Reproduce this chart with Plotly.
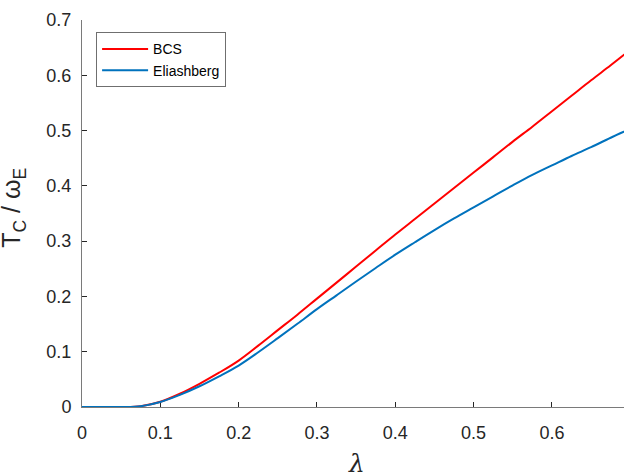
import plotly.graph_objects as go

lam = [0, 0.05, 0.075, 0.1, 0.125, 0.15, 0.175, 0.2, 0.225, 0.25, 0.275, 0.3, 0.325,
       0.35, 0.375, 0.4, 0.425, 0.45, 0.475, 0.5, 0.525, 0.55, 0.575, 0.6, 0.625,
       0.65, 0.675, 0.7]
bcs = [0, 0, 0.0015, 0.0095, 0.024, 0.042, 0.062, 0.084, 0.111, 0.139, 0.167, 0.196,
       0.225, 0.254, 0.283, 0.312, 0.340, 0.368, 0.396, 0.424, 0.452, 0.480, 0.507,
       0.535, 0.563, 0.591, 0.618, 0.646]
eli = [0, 0, 0.0015, 0.009, 0.022, 0.0375, 0.0555, 0.075, 0.099, 0.1245, 0.1505, 0.177,
       0.202, 0.227, 0.2515, 0.2755, 0.298, 0.320, 0.341, 0.361, 0.381, 0.401, 0.420,
       0.437, 0.454, 0.470, 0.487, 0.503]

x_ticks = [0, 0.1, 0.2, 0.3, 0.4, 0.5, 0.6]
y_ticks = [0, 0.1, 0.2, 0.3, 0.4, 0.5, 0.6, 0.7]

FONT = "Liberation Sans, Arial, Helvetica, sans-serif"
TXT = "#262626"
AX = "#7a7a7a"

fig = go.Figure()
fig.add_trace(go.Scatter(x=lam, y=bcs, mode="lines", name="BCS",
                         line=dict(color="#ff0000", width=2, shape="spline",
                                   smoothing=1.0)))
fig.add_trace(go.Scatter(x=lam, y=eli, mode="lines", name="Eliashberg",
                         line=dict(color="#0072bd", width=2, shape="spline",
                                   smoothing=1.0)))

fig.update_layout(
    width=624, height=473,
    margin=dict(l=82, r=0, t=20, b=66),
    paper_bgcolor="white", plot_bgcolor="white",
    font=dict(family=FONT, color=TXT, size=18),
    showlegend=True,
    legend=dict(x=0.026, y=0.968, xanchor="left", yanchor="top",
                bgcolor="white", bordercolor="#6f6f6f", borderwidth=1,
                font=dict(size=14, color="#000000"), tracegroupgap=0,
                itemwidth=46),
    xaxis=dict(range=[0, 0.692], tickvals=x_ticks, ticktext=[str(v) for v in x_ticks],
               showgrid=False, zeroline=False, showline=True, linecolor=AX, linewidth=1,
               ticks="inside", ticklen=5, tickcolor=TXT, tickwidth=1,
               ticklabelstandoff=9, layer="below traces", fixedrange=True,
               automargin=False),
    yaxis=dict(range=[0, 0.7], tickvals=y_ticks, ticktext=[str(v) for v in y_ticks],
               showgrid=False, zeroline=False, showline=True, linecolor=AX, linewidth=1,
               ticks="inside", ticklen=5, tickcolor=TXT, tickwidth=1,
               ticklabelstandoff=6, layer="below traces", fixedrange=True,
               automargin=False),
)

fig.add_annotation(text="T<sub>C</sub> / ω<sub>E</sub>", textangle=-90,
                   xref="paper", yref="paper", x=-0.127, y=0.515,
                   xanchor="center", yanchor="middle", showarrow=False,
                   font=dict(size=25, color=TXT, family=FONT))
fig.add_annotation(text="<i>λ</i>", xref="paper", yref="paper",
                   x=0.507, y=-0.145, xanchor="center", yanchor="middle",
                   showarrow=False, font=dict(size=25, color=TXT, family="DejaVu Serif"))

fig.write_html("out.html", config={"displayModeBar": False},
               post_script="document.body.style.margin='0';"
                           "document.body.style.overflow='hidden';")
